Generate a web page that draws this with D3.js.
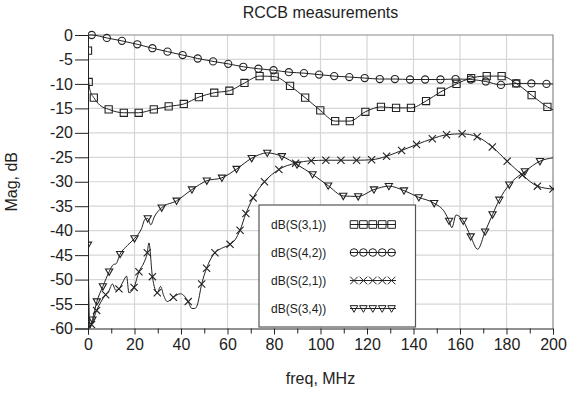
<!DOCTYPE html>
<html><head><meta charset="utf-8">
<script src="https://cdn.jsdelivr.net/npm/d3@7"></script>
<style>
body{margin:0;background:#fff}
text{font-family:"Liberation Sans",Arial,sans-serif;fill:#222}
</style>
</head><body>
<svg id="chart" width="579" height="403"></svg>
<script>
// ---- data (freq MHz, magnitude dB) ----
const title = "RCCB measurements";
const xLabel = "freq, MHz";
const yLabel = "Mag, dB";
const xTickValues = [0,20,40,60,80,100,120,140,160,180,200];
const xMinorTickValues = [10,30,50,70,90,110,130,150,170,190];
const yTickValues = [0,-5,-10,-15,-20,-25,-30,-35,-40,-45,-50,-55,-60];
const seriesNames = ["dB(S(3,1))","dB(S(4,2))","dB(S(2,1))","dB(S(3,4))"];

const s31Markers = [[0,-3.2],[0.3,-9.6],[2.5,-12.8],[8.9,-15.2],[15.4,-15.9],[21.8,-15.9],[28.3,-15.2],[34.7,-14.6],[41.2,-14.1],[47.7,-12.7],[54.3,-11.8],[60.8,-11.4],[67.3,-9.8],[73.8,-8.4],[80.3,-8.5],[86.9,-10.4],[93.4,-12.8],[99.9,-15.4],[106.3,-17.6],[112.6,-17.6],[119.3,-15.7],[126,-14.7],[132.5,-14.9],[138.9,-14.9],[145.4,-13.5],[151.8,-11.6],[158.5,-10.0],[164.8,-8.8],[171.5,-8.4],[177.9,-8.4],[184.2,-9.9],[190.8,-12.3],[197.6,-14.7]];
const s31Line = [[0,-3.2],[0.3,-9.6],[1.0,-11.5],[2.5,-12.8],[5,-14.3],[8.9,-15.2],[15.4,-15.9],[21.8,-15.9],[28.3,-15.2],[34.7,-14.6],[41.2,-14.1],[47.7,-12.7],[54.3,-11.8],[60.8,-11.4],[67.3,-9.8],[73.8,-8.4],[80.3,-8.5],[86.9,-10.4],[93.4,-12.8],[99.9,-15.4],[106.3,-17.6],[112.6,-17.6],[119.3,-15.7],[126,-14.7],[132.5,-14.9],[138.9,-14.9],[145.4,-13.5],[151.8,-11.6],[158.5,-10.0],[164.8,-8.8],[171.5,-8.4],[177.9,-8.4],[184.2,-9.9],[190.8,-12.3],[197.6,-14.7],[200,-15.3]];

const s42Markers = [[1.6,0],[8.1,-0.6],[14.6,-1.2],[21.2,-1.9],[27.7,-2.7],[34.2,-3.4],[40.7,-4.1],[47.2,-4.8],[53.8,-5.4],[60.3,-5.9],[66.8,-6.5],[73.3,-6.9],[79.8,-7.2],[86.4,-7.6],[92.9,-7.8],[99.4,-8.1],[105.9,-8.4],[112.4,-8.6],[119,-8.8],[125.5,-9.0],[132,-9.0],[138.5,-9.1],[145,-9.1],[151.6,-9.1],[158.1,-9.0],[164.6,-9.1],[171.1,-9.5],[177.6,-10.2],[184.2,-9.9],[190.7,-9.9],[197.2,-10.0]];
const s42Line = [[0.3,0]].concat(s42Markers).concat([[200,-10.0]]);

const s21Markers = [[1.5,-59.2],[3.7,-56.3],[7.6,-53.1],[13.3,-51.9],[19.8,-51.6],[21.9,-48.4],[25.5,-44.5],[27.7,-49.4],[29.8,-52.7],[36.7,-53.6],[43.1,-54.5],[48.9,-50.9],[51,-47.7],[54.6,-44.5],[61.1,-42.8],[65.4,-39.9],[67.9,-36.5],[71,-33.3],[75.9,-30.0],[82.1,-27.5],[89.3,-26.2],[96,-25.7],[102.3,-25.6],[108.8,-25.6],[115.5,-25.6],[122,-25.5],[128.4,-24.8],[134.9,-23.6],[141.3,-22.4],[148.1,-21.2],[154.2,-20.4],[160.9,-20.2],[167.4,-20.8],[173.9,-22.9],[180.3,-25.8],[186.8,-28.6],[193.3,-30.9],[200,-31.5]];
const s21Line = [[0.7,-60],[1.5,-59.2],[3.7,-56.3],[5.5,-54.6],[7.6,-53.1],[9,-52.3],[10.5,-50.9],[12,-52.2],[13.3,-51.9],[15,-50.5],[16.6,-49.3],[17.6,-52.7],[19.8,-51.6],[21.9,-48.4],[24,-46.6],[25.5,-44.5],[26.2,-42.5],[27.7,-49.4],[29.8,-52.7],[31.2,-51.4],[32.5,-53.2],[34.1,-54.5],[36.7,-53.6],[39.8,-52.9],[43.1,-54.5],[44.6,-55.9],[46,-55.9],[47,-55.2],[48.9,-50.9],[51,-47.7],[54.6,-44.5],[57.5,-43.6],[61.1,-42.8],[63.2,-41.9],[65.4,-39.9],[67.9,-36.5],[71,-33.3],[75.9,-30.0],[82.1,-27.5],[89.3,-26.2],[96,-25.7],[102.3,-25.6],[108.8,-25.6],[115.5,-25.6],[122,-25.5],[128.4,-24.8],[134.9,-23.6],[141.3,-22.4],[148.1,-21.2],[154.2,-20.4],[160.9,-20.2],[167.4,-20.8],[173.9,-22.9],[180.3,-25.8],[186.8,-28.6],[193.3,-30.9],[200,-31.5]];

const s34Markers = [[0,-42.9],[1.9,-58.2],[3.8,-54.5],[6.4,-51.4],[9.1,-48.4],[13.8,-44.8],[20,-41.6],[25.7,-37.5],[31.7,-35.3],[38.1,-33.9],[44.7,-31.6],[51.1,-29.8],[57.6,-29.2],[63.9,-27.4],[70.4,-25.2],[77.1,-24.1],[83.4,-24.8],[89.9,-26.5],[96.6,-28.5],[103.3,-30.8],[109.8,-32.9],[116.2,-33.0],[123,-31.6],[129.4,-30.9],[135.9,-31.8],[142.3,-33.2],[148.9,-34.4],[155.3,-38.0],[161.4,-38.0],[164.6,-41.2],[170.8,-40.2],[174,-36.7],[176.9,-33.7],[181.2,-30.6],[187.9,-27.9],[194.4,-25.8]];
const s34Line = [[0,-42.9],[0.8,-60],[1.9,-58.2],[3.8,-54.5],[6.4,-51.4],[9.1,-48.4],[11,-46.9],[12,-46.8],[13.8,-44.8],[17,-43.0],[20,-41.6],[23,-39.6],[24.6,-37.6],[25.7,-37.5],[27,-38.8],[28.5,-37.2],[31.7,-35.3],[38.1,-33.9],[44.7,-31.6],[51.1,-29.8],[57.6,-29.2],[63.9,-27.4],[70.4,-25.2],[77.1,-24.1],[83.4,-24.8],[89.9,-26.5],[96.6,-28.5],[103.3,-30.8],[109.8,-32.9],[116.2,-33.0],[123,-31.6],[129.4,-30.9],[135.9,-31.8],[142.3,-33.2],[148.9,-34.4],[153.5,-36.3],[155.3,-38.0],[156.5,-39.4],[158.3,-36.8],[161.4,-38.0],[164.6,-41.2],[167.6,-43.8],[170.8,-40.2],[174,-36.7],[176.9,-33.7],[181.2,-30.6],[187.9,-27.9],[194.4,-25.8],[200,-25.1]];

// ---- layout ----
const svg = d3.select("#chart");
const L = 88, T = 35, W = 465, H = 293.5;
const x = d3.scaleLinear().domain([0,200]).range([L, L+W]);
const y = d3.scaleLinear().domain([-60,0]).range([T+H, T]);
const ink = "#222";

// title & axis labels
svg.append("text").attr("x", L+W/2).attr("y", 18).attr("text-anchor","middle")
  .style("font-size","16px").text(title);
svg.append("text").attr("x", L+W/2).attr("y", 384).attr("text-anchor","middle")
  .style("font-size","16px").text(xLabel);
svg.append("text").attr("transform", `translate(17,${T+H/2}) rotate(-90)`)
  .attr("text-anchor","middle").style("font-size","16px").text(yLabel);

// grid
const grid = svg.append("g");
grid.selectAll("line.v").data(xTickValues.slice(1,-1)).join("line")
  .attr("x1", d=>x(d)).attr("x2", d=>x(d)).attr("y1", T).attr("y2", T+H)
  .attr("stroke","#d6d6d6").attr("stroke-width",1.2);
grid.selectAll("line.h").data(yTickValues.slice(1,-1)).join("line")
  .attr("x1", L).attr("x2", L+W).attr("y1", d=>y(d)).attr("y2", d=>y(d))
  .attr("stroke","#d6d6d6").attr("stroke-width",1.2);
// top/right frame
svg.append("path").attr("d", `M${L},${T}H${L+W}V${T+H}`).attr("fill","none")
  .attr("stroke","#8a8a8a").attr("stroke-width",1.2);

// axes
const xAxis = svg.append("g").attr("transform", `translate(0,${T+H})`)
  .call(d3.axisBottom(x).tickValues(xTickValues).tickSize(6).tickPadding(4).tickFormat(d3.format("d")));
const xMinor = svg.append("g").attr("transform", `translate(0,${T+H})`)
  .call(d3.axisBottom(x).tickValues(xMinorTickValues).tickSize(5).tickFormat(""));
xMinor.select(".domain").remove();
const yAxis = svg.append("g").attr("transform", `translate(${L},0)`)
  .call(d3.axisLeft(y).tickValues(yTickValues).tickSize(13).tickPadding(2).tickFormat(d3.format("d")));
[xAxis, xMinor, yAxis].forEach(g => {
  g.selectAll("text").style("font-size","16px").style("font-family",'"Liberation Sans",Arial,sans-serif').attr("fill",ink);
  g.selectAll("line").attr("stroke", ink);
  g.select(".domain").attr("stroke", ink);
});
xAxis.selectAll("text").attr("dy","0.71em");
yAxis.selectAll("text").text(d => d === 0 ? "0" : d3.format("d")(d).replace("−","-"));

// clip
svg.append("clipPath").attr("id","clip").append("rect")
  .attr("x", L).attr("y", T-5).attr("width", W+1).attr("height", H+5);

// marker shapes
function marker(type, s) {
  if (type === "square") return `M${-s},${-s}h${2*s}v${2*s}h${-2*s}Z`;
  if (type === "circle") return `M${-s},0a${s},${s} 0 1,0 ${2*s},0a${s},${s} 0 1,0 ${-2*s},0Z`;
  if (type === "x") return `M${-s},${-s}L${s},${s}M${-s},${s}L${s},${-s}`;
  return `M${-s},${-s*0.75}L${s},${-s*0.75}L0,${s}Z`;
}

const series = [
  {name: seriesNames[0], line: s31Line, marks: s31Markers, type: "square"},
  {name: seriesNames[1], line: s42Line, marks: s42Markers, type: "circle"},
  {name: seriesNames[2], line: s21Line, marks: s21Markers, type: "x"},
  {name: seriesNames[3], line: s34Line, marks: s34Markers, type: "triangle"}
];

const lineGen = d3.line().x(d=>x(d[0])).y(d=>y(d[1])).curve(d3.curveMonotoneX);
const plot = svg.append("g").attr("clip-path","url(#clip)");
series.forEach(s => {
  plot.append("path").attr("d", lineGen(s.line)).attr("fill","none")
    .attr("stroke", ink).attr("stroke-width",1);
  plot.selectAll(null).data(s.marks).join("path")
    .attr("transform", d=>`translate(${x(d[0])},${y(d[1])})`)
    .attr("d", marker(s.type, 3.6)).attr("fill","none")
    .attr("stroke", ink).attr("stroke-width",1.1);
});

// legend
const lg = svg.append("g");
lg.append("rect").attr("x",259).attr("y",205).attr("width",156.5).attr("height",122)
  .attr("fill","#fff").attr("stroke","#555").attr("stroke-width",1.2);
series.forEach((s,i) => {
  const ry = 224.5 + i*28;
  lg.append("text").attr("x",271).attr("y",ry).attr("dy","0.35em")
    .style("font-size","12px").text(s.name);
  lg.append("line").attr("x1",350).attr("x2",396).attr("y1",ry).attr("y2",ry)
    .attr("stroke",ink).attr("stroke-width",1);
  lg.selectAll(null).data(d3.range(5)).join("path")
    .attr("transform", k=>`translate(${354+k*9.4},${ry})`)
    .attr("d", marker(s.type, 3.8)).attr("fill","none")
    .attr("stroke", ink).attr("stroke-width",1);
});
</script>
</body></html>
